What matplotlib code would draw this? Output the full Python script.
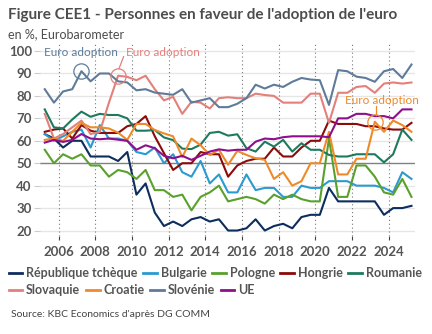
import numpy as np
import matplotlib
matplotlib.use("Agg")
import matplotlib.pyplot as plt
from matplotlib.lines import Line2D

plt.rcParams['font.family'] = ['Lato', 'DejaVu Sans']

# semi-annual Eurobarometer waves, spring 2005 .. spring 2025
annees = 2005.25 + 0.5 * np.arange(41)

tcheque = [63, 61, 57, 60, 60, 53, 53, 53, 51, 55, 36, 41, 28, 22, 24, 22, 25, 26, 24, 25,
           20, 20, 21, 25, 20, 22, 23, 21, 26, 27, 27, 39, 33, 33, 33, 33, 33, 27, 30, 30, 31]
bulgarie = [63, 60, 62, 64, 65, 57, 67, 61, 61, 60, 55, 54, 57, 50, 54, 46, 44, 51, 41, 45,
            37, 37, 45, 38, 39, 39, 35, 35, 40, 39, 39, 42, 42, 42, 40, 40, 40, 39, 37, 46, 43]
pologne = [56, 50, 54, 52, 54, 49, 49, 44, 47, 46, 43, 47, 38, 38, 35, 36, 29, 35, 37, 40,
           33, 34, 35, 34, 32, 36, 34, 36, 34, 33, 33, 61, 35, 35, 49, 49, 44, 37, 36, 43, 35]
hongrie = [64, 65, 65.5, 61, 67, 64.5, 63.5, 63.5, 63.5, 66.5, 67.5, 71, 62, 54.5, 47, 50, 50, 55, 54, 54,
           44, 49, 51, 52, 52, 57, 53, 53, 57, 60, 60, 69, 67.5, 67.5, 67.5, 66.5, 66.5, 65.5, 65, 65, 68]
roumanie = [74, 66, 65.5, 69.5, 73, 70.7, 72, 71.5, 71.5, 70, 64.5, 64.5, 64.8, 61.5, 60.3, 56.5, 56.3, 58.3, 63.5, 64,
            62.3, 62.9, 56.7, 55.2, 59.6, 57.4, 60.4, 55.2, 58.9, 56, 56, 53.7, 53, 53, 54, 54, 54, 50.4, 54, 65, 60.4]
slovaquie = [72, 61, 63, 66, 69, 63, 64, 77, 89, 88.5, 87, 89, 83, 78, 79.6, 72, 77.4, 77, 74.4, 79,
             79.4, 79, 79, 81, 80.4, 80, 77, 77, 77, 81, 81, 68, 81.4, 81.4, 84, 84.4, 81.4, 85.5, 86, 85.5, 86]
croatie = [60.4, 61, 60, 64, 68, 66, 66, 65.5, 63.6, 60.4, 67.5, 67.5, 64.8, 63.3, 62, 52.7, 61, 58, 53.7, 56,
           49.3, 55.5, 53.7, 52.2, 51.5, 43, 46, 40, 42, 50, 50, 64, 45, 45, 52, 52, 68.5, 64, 69, 67, 64]
slovenie = [83, 77, 82, 83, 91, 86.5, 90, 90, 86.5, 86, 82.5, 83, 81.5, 81, 80.5, 83, 77, 78, 79, 75,
            75, 76.5, 79, 85, 83.3, 85, 84, 86.3, 88, 87.3, 87, 76, 91.5, 91, 88.6, 88, 86.3, 91, 92, 88, 94]
ue = [59.2, 60.4, 59.5, 60.4, 63, 61, 60.7, 61, 60.5, 60, 56, 58, 56.7, 53.3, 52.2, 53.3, 51.5, 53.3, 55.2, 56.2,
      55.6, 56, 56, 59.6, 61, 60.7, 61.6, 62, 62, 62, 62, 61.6, 70, 70, 72, 72, 71, 71, 70, 74, 74]

noms = ["République tchèque", "Bulgarie", "Pologne", "Hongrie", "Roumanie",
        "Slovaquie", "Croatie", "Slovénie", "UE"]
series = [tcheque, bulgarie, pologne, hongrie, roumanie, slovaquie, croatie, slovenie, ue]
couleurs = ["#0d2d5e", "#2b9ad1", "#5aa02c", "#8b0a0a", "#1d7a5e",
            "#e3807b", "#ee8a2a", "#5e7b9a", "#8e0e8e"]

gris = "#555555"

fig = plt.figure(figsize=(4.32, 3.34), dpi=100)
ax = fig.add_axes([0.093, 0.293, 0.868, 0.581])

for y in range(20, 101, 10):
    ax.axhline(y, color="#e6e6e6" if y != 50 else "#808080", lw=1.0, zorder=0)
for x in range(2006, 2025, 2):
    ax.axvline(x, color="#777777", lw=0.8, ls=(0, (1, 2.5)), zorder=0)

for s, c, n in zip(series, couleurs, noms):
    ax.plot(annees, s, color=c, lw=1.5, label=n)

ax.set_xlim(2005.0, 2025.45)
ax.set_ylim(17.5, 104)
ax.set_yticks(range(20, 101, 10))
ax.set_xticks(range(2006, 2025, 2))
for sp in ax.spines.values():
    sp.set_visible(False)
ax.tick_params(axis="y", length=4, color="#cccccc", pad=2, labelsize=9.5, labelcolor=gris)
ax.tick_params(axis="x", length=3, color="#444444", pad=4, labelsize=9.5, labelcolor=gris)
for lab in ax.get_xticklabels() + ax.get_yticklabels():
    lab.set_fontweight("bold")

# annotations "Euro adoption"
ax.text(2005.2, 99.2, "Euro adoption", color="#5e7b9a", fontsize=8.5, va="center")
ax.plot(annees[4], slovenie[4], 'o', ms=11, mfc="none", mec="#5e7b9a", mew=0.9)
ax.text(2009.7, 99.2, "Euro adoption", color="#e3807b", fontsize=8.5, va="center")
ax.plot([2009.55, 2009.3], [97.5, 92.2], color="#e3807b", lw=0.9)
ax.plot(annees[8], slovaquie[8], 'o', ms=11, mfc="none", mec="#e3807b", mew=0.9)
ax.text(2021.6, 77.8, "Euro adoption", color="#ee8a2a", fontsize=8.5, va="center")
ax.plot([2023.3, 2023.3], [75.6, 71.5], color="#ee8a2a", lw=0.9)
ax.plot(annees[36], croatie[36], 'o', ms=11, mfc="none", mec="#ee8a2a", mew=0.9)

fig.text(0.018, 0.955, "Figure CEE1 - Personnes en faveur de l'adoption de l'euro",
         fontsize=11, fontweight="bold", color="#4d4d4d", va="center")
fig.text(0.018, 0.897, "en %, Eurobarometer", fontsize=9, color="#4d4d4d", va="center")

h = [Line2D([], [], color=c, lw=2) for c in couleurs]
leg_kw = dict(frameon=False, fontsize=9, handlelength=1.1, handletextpad=0.3,
              columnspacing=0.45, borderpad=0, borderaxespad=0, loc="center left")
l1 = fig.legend(h[:5], noms[:5], ncol=5, bbox_to_anchor=(0.02, 0.183), **leg_kw)
l2 = fig.legend(h[5:], noms[5:], ncol=4, bbox_to_anchor=(0.02, 0.132), **leg_kw)
for leg in (l1, l2):
    for t in leg.get_texts():
        t.set_fontweight("bold")
        t.set_color(gris)

fig.text(0.025, 0.057, "Source: KBC Economics d'après DG COMM", fontsize=7.5, color="#444444", va="center")

fig.savefig("out.png", dpi=100)
